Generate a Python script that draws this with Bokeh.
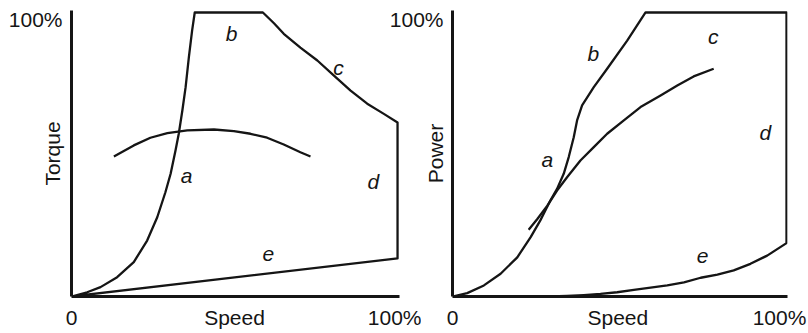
from bokeh.plotting import figure
from bokeh.layouts import row
from bokeh.models import Range1d, FixedTicker
from bokeh.core.properties import value
from bokeh.embed import file_html
from bokeh.resources import INLINE

FONT = "Liberation Sans"
INK = "#151515"

# ---------------- data (percent of rated values) ----------------
# Torque vs speed: envelope of the operating region (a -> b -> c -> d -> e)
torque_env_speed = [0, 4.8, 8.9, 14.0, 19.1, 23.2, 26.3, 28.8, 30.4, 31.9, 32.9, 34.0, 35.0, 36.0, 37.0, 37.8,
                    58.7, 62.1, 65.1, 70.2, 75.4, 80.5, 85.6, 90.7, 95.8, 100, 100, 0]
torque_env_value = [0, 1.5, 3.3, 6.8, 12.1, 19.7, 27.9, 36.7, 43.2, 51.4, 57.3, 65.5, 73.7, 84.3, 93.7, 100,
                    100, 96.2, 92.5, 87.6, 83.1, 77.8, 72.5, 67.9, 64.3, 61.3, 13.4, 0]
# Torque vs speed: load curve
torque_load_speed = [13.0, 19.1, 24.2, 29.4, 35.5, 43.7, 49.8, 54.9, 60.0, 65.1, 70.2, 73.3]
torque_load_value = [49.3, 53.2, 55.9, 57.5, 58.5, 58.8, 58.2, 57.3, 55.9, 53.5, 50.8, 49.3]

# Power vs speed: envelope of the operating region
power_env_speed = [0, 4.4, 9.4, 14.4, 19.4, 23.4, 26.3, 29.3, 31.3, 33.3, 34.8, 36.3, 37.3, 38.8, 42.3, 46.3,
                   52.3, 57.8, 100, 100, 94.2, 89.2, 84.2, 79.3, 74.3, 69.3, 64.3, 59.3, 54.3, 49.3, 44.3,
                   39.3, 34.3, 29.3, 0]
power_env_value = [0, 1.2, 3.9, 8.0, 13.8, 20.9, 26.8, 33.8, 37.9, 43.2, 49.1, 56.1, 62.0, 67.3, 73.7, 80.2,
                   90.1, 100, 100, 18.8, 14.4, 11.5, 9.2, 7.7, 6.6, 5.0, 3.9, 3.1, 2.3, 1.5, 0.9,
                   0.5, 0.2, 0, 0]
# Power vs speed: load curve
power_load_speed = [22.8, 25.4, 28.4, 31.3, 34.3, 38.3, 42.3, 46.3, 51.3, 56.3, 62.3, 67.3, 72.2, 78.2]
power_load_value = [23.5, 27.3, 32.0, 37.3, 42.0, 47.9, 52.6, 57.3, 62.0, 66.7, 70.8, 74.3, 77.5, 80.2]

# region letters
region_letters = ["a", "b", "c", "d", "e"]
torque_letter_speed = [35.3, 49.1, 81.9, 92.6, 60.4]
torque_letter_value = [42.6, 92.6, 80.6, 40.5, 14.8]
power_letter_speed = [28.4, 42.2, 78.1, 93.7, 74.9]
power_letter_value = [48.2, 85.6, 91.5, 57.7, 14.2]

# tick labels
x_tick_labels = ["0", "Speed", "100%"]
torque_x_ticks = [0, 50, 100]
power_x_ticks = [0, 49.5, 97.9]
y_tick_values = [97.7]
y_tick_labels = ["100%"]


def panel(ylabel, env_x, env_y, load_x, load_y, let_x, let_y, x_ticks,
          width, b_left, b_right, x_end, label_standoff):
    p = figure(width=width, height=333, output_backend="svg", toolbar_location=None,
               x_range=Range1d(0, x_end), y_range=Range1d(0, 100.7),
               min_border_left=b_left, min_border_right=b_right,
               min_border_top=10, min_border_bottom=37)
    p.border_fill_alpha = 0
    p.background_fill_alpha = 0
    p.outline_line_color = None
    p.grid.visible = False

    for ax in (p.xaxis[0], p.yaxis[0]):
        ax.axis_line_width = 3
        ax.axis_line_color = INK
        ax.major_tick_line_color = None
        ax.minor_tick_line_color = None
        ax.major_label_text_font = FONT
        ax.major_label_text_font_size = "21px"
        ax.major_label_text_color = INK

    p.xaxis.ticker = FixedTicker(ticks=x_ticks)
    p.xaxis.major_label_overrides = {v: l for v, l in zip(x_ticks, x_tick_labels)}
    p.xaxis.major_label_standoff = 3

    p.yaxis.ticker = FixedTicker(ticks=y_tick_values)
    p.yaxis.major_label_overrides = {v: l for v, l in zip(y_tick_values, y_tick_labels)}
    p.yaxis.major_label_standoff = 3
    p.yaxis.axis_label = ylabel
    p.yaxis.axis_label_text_font = FONT
    p.yaxis.axis_label_text_font_size = "21px"
    p.yaxis.axis_label_text_font_style = "normal"
    p.yaxis.axis_label_text_color = INK
    p.yaxis.axis_label_standoff = label_standoff

    p.line(env_x, env_y, line_width=2.3, line_color=INK, line_join="round")
    p.line(load_x, load_y, line_width=2.3, line_color=INK, line_join="round")

    p.text(let_x, let_y, text=region_letters, text_font=value(FONT),
           text_font_style="italic", text_font_size="21px", text_color=INK,
           text_align="center", text_baseline="middle")
    return p


p1 = panel("Torque", torque_env_speed, torque_env_value, torque_load_speed, torque_load_value,
           torque_letter_speed, torque_letter_value, torque_x_ticks,
           width=421, b_left=71, b_right=22, x_end=100.6, label_standoff=-58)
p2 = panel("Power", power_env_speed, power_env_value, power_load_speed, power_load_value,
           power_letter_speed, power_letter_value, power_x_ticks,
           width=427, b_left=71, b_right=21, x_end=100.3, label_standoff=-60)
p2.margin = (0, 0, 0, -40)

layout = row(p1, p2)
open("out.html", "w").write(file_html(layout, INLINE))
